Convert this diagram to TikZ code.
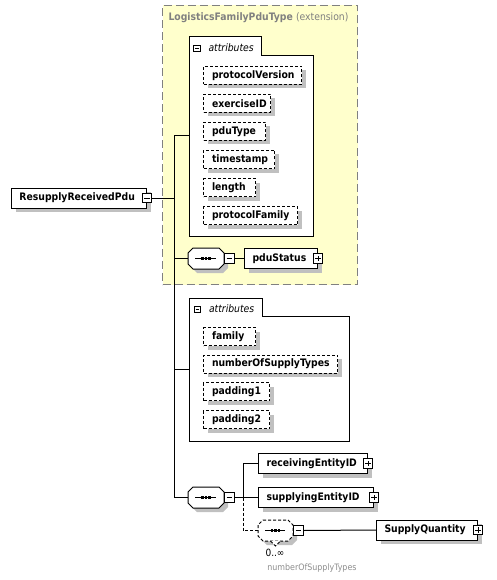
\documentclass[tikz,border=0pt]{standalone}
\usepackage{fontspec}
\setmainfont{DejaVu Sans Condensed}
\usetikzlibrary{shadows}
\definecolor{shd}{RGB}{192,192,192}
\definecolor{ylw}{RGB}{255,255,204}
\definecolor{gry}{RGB}{128,128,128}
\definecolor{lgry}{RGB}{140,140,140}
\newcommand{\octshape}[2]{%
 \path[#2] ([xshift=5pt]#1.north west) -- ([xshift=-5pt]#1.north east) -- ([yshift=-5pt]#1.north east) -- ([yshift=5pt]#1.south east) -- ([xshift=-5pt]#1.south east) -- ([xshift=5pt]#1.south west) -- ([yshift=5pt]#1.south west) -- ([yshift=-5pt]#1.north west) -- cycle;}
\newcommand{\seqmark}[1]{%
 \draw[solid, line width=0.9pt] ([xshift=7pt]#1.west) -- ([xshift=-8pt]#1.east);
 \fill ([shift={(-4.7pt,-1.3pt)}]#1.center) rectangle ++(2.6pt,2.6pt);
 \fill ([shift={(-1.3pt,-1.3pt)}]#1.center) rectangle ++(2.6pt,2.6pt);
 \fill ([shift={(2.1pt,-1.3pt)}]#1.center) rectangle ++(2.6pt,2.6pt);}
\begin{document}
\begin{tikzpicture}[x=1pt,y=-1pt, line width=1pt,
  base/.style={font=\fontsize{10.3pt}{12pt}\selectfont\bfseries},
  shdw/.style={drop shadow={shadow xshift=4pt,shadow yshift=-4pt,fill=shd,opacity=1}},
  elem/.style={base, draw, fill=white, align=left, inner xsep=8pt, inner ysep=0pt, minimum height=20pt, anchor=north west, shdw},
  attr/.style={base, draw, dash pattern=on 3pt off 2pt, fill=white, align=left, inner xsep=8.5pt, inner ysep=0pt, minimum height=18pt, anchor=north west, shdw},
  btn/.style={draw, solid, fill=white, minimum size=9.5pt, inner sep=0pt},
  minusbtn/.style={btn, path picture={\draw[line width=0.8pt] ([xshift=2pt]path picture bounding box.west) -- ([xshift=-2pt]path picture bounding box.east);}},
  plusbtn/.style={btn, path picture={\draw[line width=0.8pt] ([xshift=2pt]path picture bounding box.west) -- ([xshift=-2pt]path picture bounding box.east) ([yshift=-2pt]path picture bounding box.north) -- ([yshift=2pt]path picture bounding box.south);}},
  tabbtn/.style={draw, fill=white, minimum size=6.5pt, inner sep=0pt, line width=0.8pt, path picture={\draw[line width=0.8pt] ([xshift=1.3pt]path picture bounding box.west) -- ([xshift=-1.3pt]path picture bounding box.east);}},
  tablbl/.style={anchor=west, inner sep=0pt, font=\fontsize{10.3pt}{12pt}\selectfont\itshape},
  seq/.style={minimum width=35pt, minimum height=20pt, inner sep=0pt, anchor=north west},
  dconn/.style={dash pattern=on 3pt off 2pt},
  small/.style={inner sep=0pt, font=\fontsize{8.8pt}{10pt}\selectfont}
]
\useasboundingbox (0,0) rectangle (497,580);

% extension box
\node[draw=gry, dash pattern=on 8pt off 4pt, fill=ylw, minimum width=195pt, minimum height=279pt, anchor=north west, inner sep=0pt] (ext) at (162,5) {};
\node[anchor=west, inner sep=0pt, text=gry, font=\fontsize{10.3pt}{12pt}\selectfont] (title) at (168,18) {\bfseries LogisticsFamilyPduType \mdseries(extension)};

% attribute group 1
\draw[fill=white] (189,236) -- (189,37) -- (261,37) -- (261,55.5) -- (313,55.5) -- (313,236) -- cycle;
\coordinate (g1) at (189,136);
\node[tabbtn] (g1btn) at (197,48.5) {};
\node[tablbl] (g1lbl) at (208,47.5) {attributes};
\node[attr, text width=81pt] (a1) at (203,66) {protocolVersion};
\node[attr, text width=50pt] (a2) at (203,94) {exerciseID};
\node[attr, text width=45pt] (a3) at (203,122) {pduType};
\node[attr, text width=54pt] (a4) at (203,150) {timestamp};
\node[attr, text width=35pt] (a5) at (203,178) {length};
\node[attr, text width=77pt] (a6) at (203,206) {protocolFamily};

% sequence 1
\node[seq] (s1) at (188,248) {};
\octshape{s1}{fill=shd, transform canvas={shift={(4pt,-4pt)}}}
\octshape{s1}{draw, fill=white}
\seqmark{s1}
\node[minusbtn, anchor=west] (s1btn) at (s1.east) {};
\node[elem, text width=57pt] (pdu) at (244,248) {pduStatus};
\node[plusbtn] (pdubtn) at (pdu.east) {};

% root
\node[elem, text width=119pt] (root) at (11,187.5) {ResupplyReceivedPdu};
\node[minusbtn] (rootbtn) at (root.east) {};

% attribute group 2
\draw[fill=white] (189.5,441) -- (189.5,298) -- (262,298) -- (262,316.5) -- (349,316.5) -- (349,441) -- cycle;
\coordinate (g2) at (189.5,369);
\node[tabbtn] (g2btn) at (197.5,309.5) {};
\node[tablbl] (g2lbl) at (208.5,308.5) {attributes};
\node[attr, text width=35pt] (b1) at (203,327) {family};
\node[attr, text width=117pt] (b2) at (203,354.5) {numberOfSupplyTypes};
\node[attr, text width=49pt] (b3) at (203,382) {padding1};
\node[attr, text width=49pt] (b4) at (203,410) {padding2};

% sequence 2
\node[seq] (s2) at (188,487) {};
\octshape{s2}{fill=shd, transform canvas={shift={(4pt,-4pt)}}}
\octshape{s2}{draw, fill=white}
\seqmark{s2}
\node[minusbtn, anchor=west] (s2btn) at (s2.east) {};
\node[elem, text width=93pt] (rec) at (258,453) {receivingEntityID};
\node[plusbtn] (recbtn) at (rec.east) {};
\node[elem, text width=99pt] (sup) at (258,487) {supplyingEntityID};
\node[plusbtn] (supbtn) at (sup.east) {};

% sequence 3 (optional, repeated)
\node[seq, minimum width=34pt] (s3) at (258,520) {};
\octshape{s3}{fill=shd, transform canvas={shift={(4pt,-4pt)}}}
\octshape{s3}{draw, fill=white, dconn}
\draw[dconn, fill=white] ([xshift=-5pt]s3.south) -- ([yshift=-5pt]s3.south) -- ([xshift=5pt]s3.south);
\seqmark{s3}
\node[minusbtn, anchor=west] (s3btn) at (s3.east) {};
\node[elem, text width=85pt] (sq) at (376,519.5) {SupplyQuantity};
\node[plusbtn] (sqbtn) at (sq.east) {};
\node[inner sep=0pt, font=\fontsize{10pt}{11pt}\selectfont] (mult) at (275,553) {0..∞};
\node[small, text=lgry] (mname) at (312,568) {numberOfSupplyTypes};

% connectors
\coordinate (tk) at (174,0);
\coordinate (bx) at (243,0);
\draw (rootbtn.east) -- (rootbtn.east -| tk);
\draw (g1 -| tk) -- (g1);
\draw (g1 -| tk) -- (s2.west -| tk);
\draw (s1.west -| tk) -- (s1.west);
\draw (g2 -| tk) -- (g2);
\draw (s2.west -| tk) -- (s2.west);
\draw (s1btn.east) -- (pdu.west);
\draw (s2btn.east) -- (s2btn.east -| bx);
\draw (rec.west) -- (rec.west -| bx) -- (sup.west -| bx) -- (sup.west);
\draw[dconn] (sup.west -| bx) |- (s3.west);
\draw (s3btn.east) -- (sq.west);
\end{tikzpicture}
\end{document}
